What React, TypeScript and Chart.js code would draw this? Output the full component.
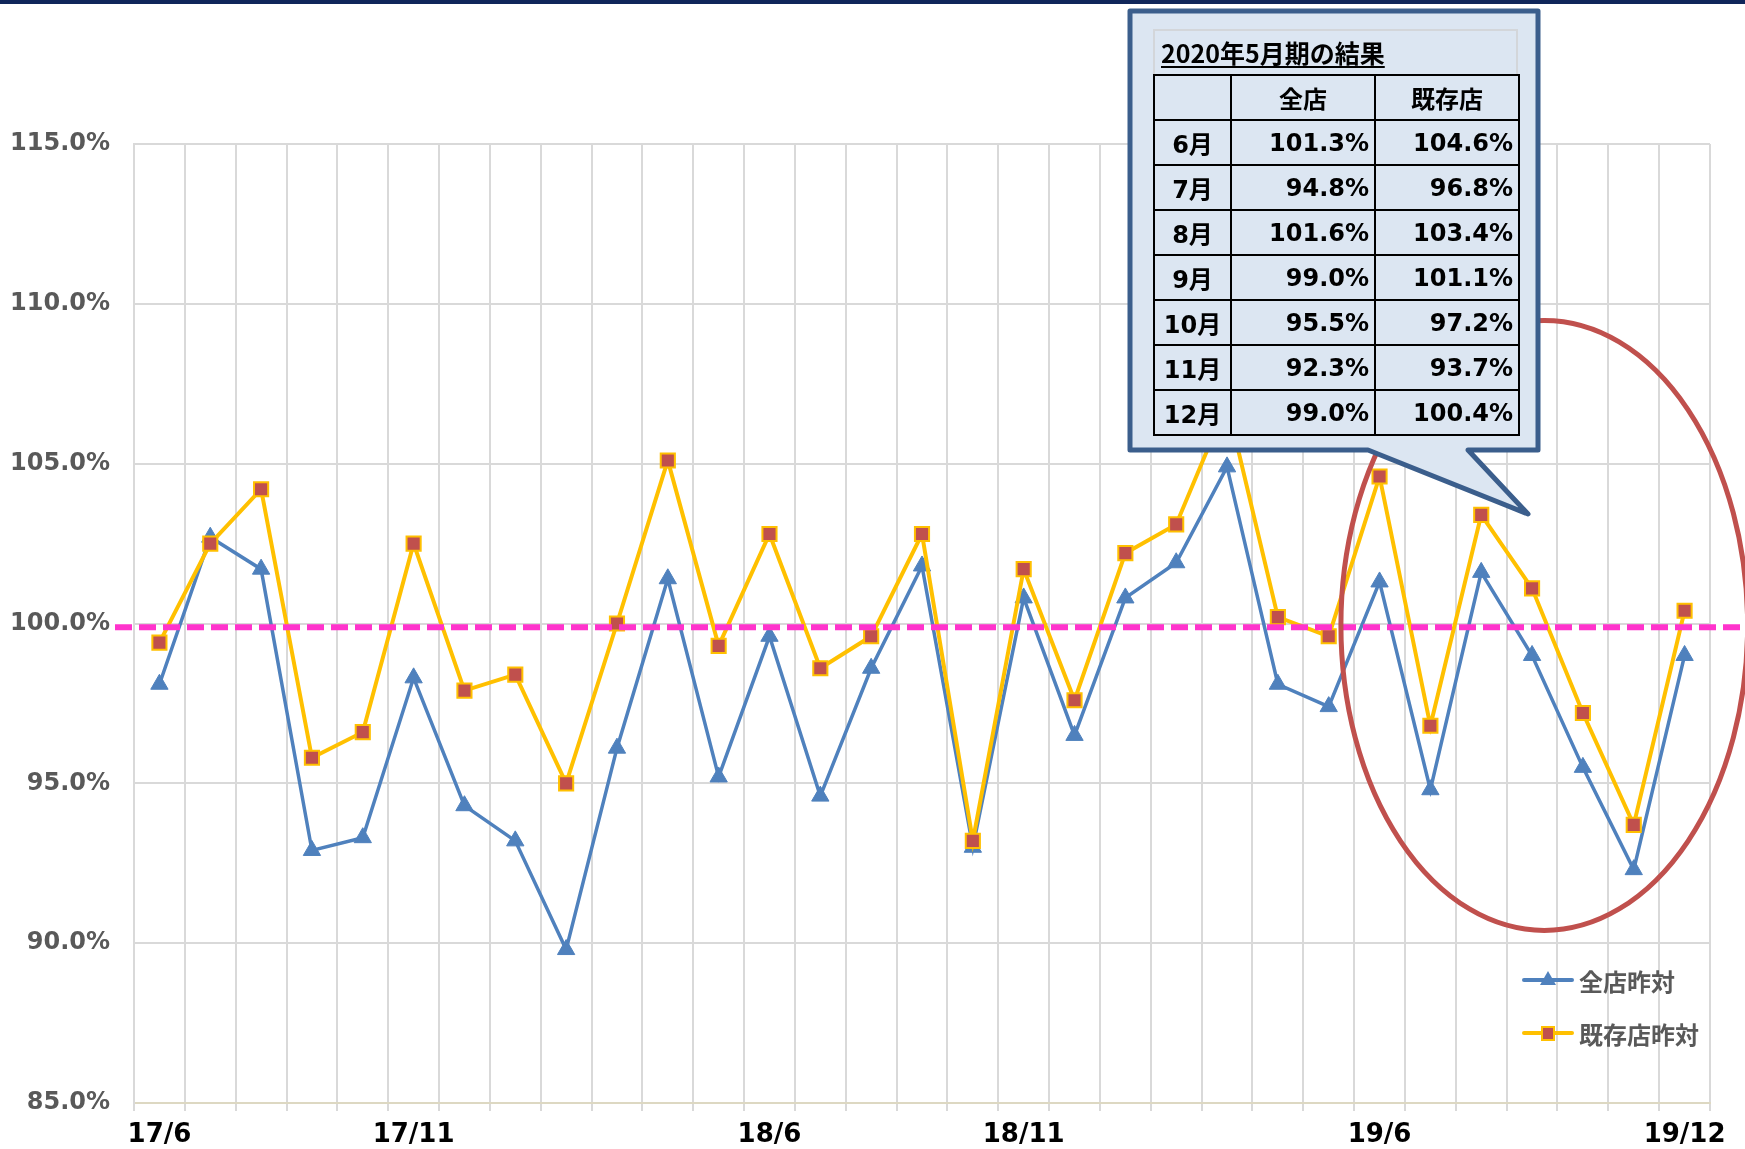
import React, { useEffect, useRef } from "react";
import { Chart, registerables } from "chart.js";

Chart.register(...registerables);

// ---------- data ----------
const categories = [
  "17/6", "17/7", "17/8", "17/9", "17/10", "17/11", "17/12",
  "18/1", "18/2", "18/3", "18/4", "18/5", "18/6", "18/7", "18/8", "18/9", "18/10", "18/11", "18/12",
  "19/1", "19/2", "19/3", "19/4", "19/5", "19/6", "19/7", "19/8", "19/9", "19/10", "19/11", "19/12",
];
const shownTickLabels = ["17/6", "17/11", "18/6", "18/11", "19/6", "19/12"];

const seriesNames = ["全店昨対", "既存店昨対"];
const allStoresYoY = [
  98.1, 102.7, 101.7, 92.9, 93.3, 98.3, 94.3, 93.2, 89.8, 96.1, 101.4, 95.2, 99.6, 94.6, 98.6, 101.8,
  93.0, 100.8, 96.5, 100.8, 101.9, 104.9, 98.1, 97.4, 101.3, 94.8, 101.6, 99.0, 95.5, 92.3, 99.0,
];
const existingStoresYoY = [
  99.4, 102.5, 104.2, 95.8, 96.6, 102.5, 97.9, 98.4, 95.0, 100.0, 105.1, 99.3, 102.8, 98.6, 99.6, 102.8,
  93.2, 101.7, 97.6, 102.2, 103.1, 106.9, 100.2, 99.6, 104.6, 96.8, 103.4, 101.1, 97.2, 93.7, 100.4,
];

const yMin = 85;
const yMax = 115;
const yStep = 5;
const referenceValue = 99.88;

const tableTitle = "2020年5月期の結果";
const tableHeaders = ["", "全店", "既存店"];
const tableMonths = ["6月", "7月", "8月", "9月", "10月", "11月", "12月"];
const tableAll = [101.3, 94.8, 101.6, 99.0, 95.5, 92.3, 99.0];
const tableExisting = [104.6, 96.8, 103.4, 101.1, 97.2, 93.7, 100.4];

// highlight ellipse (in data terms)
const ellipseCenterIndex = 27.24;
const ellipseCenterValue = 99.94;
const ellipseHalfWidthCats = 4.0;
const ellipseHalfHeightPct = 9.54;

// ---------- styles ----------
const BLUE = "#4F81BD";
const YELLOW = "#FFC000";
const RED = "#C0504D";
const GRID = "#D9D9D9";
const LABEL_GRAY = "#595959";
const NUM_FONT = "'DejaVu Sans', 'Noto Sans CJK JP', sans-serif";
const CJK_FONT = "'Noto Sans CJK JP', 'DejaVu Sans', sans-serif";

const overlayPlugin = {
  id: "overlayShapes",
  afterDatasetsDraw(chart: any) {
    const { ctx } = chart;
    const xs = chart.scales.x;
    const ys = chart.scales.y;
    // dashed reference line
    const yRef = ys.getPixelForValue(referenceValue);
    ctx.save();
    ctx.strokeStyle = "#FF33CC";
    ctx.lineWidth = 6;
    ctx.setLineDash([17, 7]);
    ctx.beginPath();
    ctx.moveTo(115, yRef);
    ctx.lineTo(chart.width, yRef);
    ctx.stroke();
    ctx.restore();
    // ellipse
    const cx = xs.getPixelForValue(ellipseCenterIndex);
    const catW = xs.getPixelForValue(1) - xs.getPixelForValue(0);
    const cy = ys.getPixelForValue(ellipseCenterValue);
    const ry = Math.abs(ys.getPixelForValue(ellipseCenterValue + ellipseHalfHeightPct) - cy);
    ctx.save();
    ctx.strokeStyle = RED;
    ctx.lineWidth = 5;
    ctx.beginPath();
    ctx.ellipse(cx, cy, ellipseHalfWidthCats * catW, ry, 0, 0, Math.PI * 2);
    ctx.stroke();
    ctx.restore();
  },
};

export default function App() {
  const ref = useRef<HTMLCanvasElement>(null);

  useEffect(() => {
    document.body.style.margin = "0";
    const chart = new Chart(ref.current as HTMLCanvasElement, {
      type: "line",
      data: {
        labels: categories,
        datasets: [
          {
            label: seriesNames[0],
            data: allStoresYoY,
            borderColor: BLUE,
            backgroundColor: BLUE,
            borderWidth: 3.5,
            pointStyle: "triangle",
            pointRadius: 10,
            pointBackgroundColor: BLUE,
            pointBorderColor: BLUE,
            pointBorderWidth: 1,
            tension: 0,
            order: 1,
          },
          {
            label: seriesNames[1],
            data: existingStoresYoY,
            borderColor: YELLOW,
            backgroundColor: RED,
            borderWidth: 4,
            pointStyle: "rect",
            pointRadius: 10,
            pointBackgroundColor: RED,
            pointBorderColor: YELLOW,
            pointBorderWidth: 2,
            tension: 0,
            order: 0,
          },
        ],
      },
      options: {
        responsive: false,
        animation: false,
        devicePixelRatio: 1,
        layout: { padding: { top: 144, right: 35, bottom: 0, left: 0 } },
        plugins: {
          legend: { display: false },
          tooltip: { enabled: false },
          title: { display: false },
        },
        scales: {
          x: {
            type: "category",
            offset: true,
            grid: {
              offset: true,
              color: GRID,
              lineWidth: 2,
              tickLength: 8,
              tickColor: GRID,
              drawTicks: true,
            },
            border: { color: "#DDD8C2", width: 2 },
            ticks: {
              autoSkip: false,
              maxRotation: 0,
              minRotation: 0,
              padding: 9,
              color: "#000000",
              font: { family: NUM_FONT, size: 26, weight: "bold" },
              callback: (_v: any, i: number) =>
                shownTickLabels.includes(categories[i]) ? categories[i] : "",
            },
            afterFit: (scale: any) => {
              scale.height = 46;
            },
          },
          y: {
            min: yMin,
            max: yMax,
            grid: { color: GRID, lineWidth: 2, drawTicks: false },
            border: { color: GRID, width: 2 },
            ticks: {
              stepSize: yStep,
              padding: 24,
              color: LABEL_GRAY,
              font: { family: NUM_FONT, size: 24, weight: "bold" },
              callback: (v: any) => Number(v).toFixed(1) + "%",
            },
            afterFit: (scale: any) => {
              scale.width = 134;
            },
          },
        },
      },
      plugins: [overlayPlugin],
    } as any);
    return () => chart.destroy();
  }, []);

  const cellBorder = "2px solid #000";
  const rowH = 45;
  const numCell = (align: "center" | "right") => ({
    border: cellBorder,
    textAlign: align,
    fontFamily: NUM_FONT,
    fontSize: 24,
    padding: align === "right" ? "0 5px 0 0" : 0,
    height: rowH - 2,
  });

  return (
    <div style={{ position: "relative", width: 1745, height: 1149, background: "#fff", overflow: "hidden" }}>
      <canvas
        ref={ref}
        width={1745}
        height={1149}
        style={{ position: "absolute", left: 0, top: 0, width: 1745, height: 1149 }}
      />
      <div style={{ position: "absolute", left: 0, top: 0, width: 1745, height: 4, background: "#10265A" }} />

      {/* callout */}
      <svg
        width={1745}
        height={1149}
        style={{ position: "absolute", left: 0, top: 0, pointerEvents: "none" }}
      >
        <polygon
          points="1130,11 1538,11 1538,450 1468,450 1528,514 1368,450 1130,450"
          fill="#DCE6F2"
          stroke="#3B5E8C"
          strokeWidth={5}
          strokeLinejoin="round"
        />
      </svg>
      <div
        style={{
          position: "absolute",
          left: 1153,
          top: 29,
          width: 365,
          height: 46,
          boxSizing: "border-box",
          border: "2px solid #D3D6DA",
          borderBottom: "none",
          fontFamily: CJK_FONT,
          fontWeight: "bold",
          fontSize: 25,
          color: "#000",
          paddingLeft: 6,
          lineHeight: "42px",
        }}
      >
        <span style={{ textDecoration: "underline", textUnderlineOffset: 3 }}>{tableTitle}</span>
      </div>
      <table
        style={{
          position: "absolute",
          left: 1153,
          top: 74,
          width: 365,
          borderCollapse: "collapse",
          tableLayout: "fixed",
          fontWeight: "bold",
          color: "#000",
        }}
      >
        <colgroup>
          <col style={{ width: 77 }} />
          <col style={{ width: 144 }} />
          <col style={{ width: 144 }} />
        </colgroup>
        <tbody>
          <tr style={{ height: rowH }}>
            {tableHeaders.map((h, i) => (
              <td
                key={i}
                style={{
                  border: cellBorder,
                  textAlign: "center",
                  fontFamily: CJK_FONT,
                  fontSize: 24,
                  padding: 0,
                  height: rowH - 2,
                }}
              >
                {h}
              </td>
            ))}
          </tr>
          {tableMonths.map((m, i) => (
            <tr key={m} style={{ height: rowH }}>
              <td style={numCell("center") as any}>{m}</td>
              <td style={numCell("right") as any}>{tableAll[i].toFixed(1)}%</td>
              <td style={numCell("right") as any}>{tableExisting[i].toFixed(1)}%</td>
            </tr>
          ))}
        </tbody>
      </table>

      {/* legend */}
      {seriesNames.map((name, i) => {
        const top = i === 0 ? 980 : 1033;
        return (
          <div
            key={name}
            style={{
              position: "absolute",
              left: 1522,
              top: top - 16,
              height: 32,
              display: "flex",
              alignItems: "center",
            }}
          >
            <svg width={52} height={24} style={{ display: "block" }}>
              <line x1={2} y1={12} x2={50} y2={12} stroke={i === 0 ? BLUE : YELLOW} strokeWidth={4} strokeLinecap="round" />
              {i === 0 ? (
                <polygon points="26,3 34,17 18,17" fill={BLUE} />
              ) : (
                <rect x={20} y={6} width={12} height={13} fill={RED} stroke={YELLOW} strokeWidth={2} />
              )}
            </svg>
            <span
              style={{
                marginLeft: 5,
                fontFamily: CJK_FONT,
                fontWeight: "bold",
                fontSize: 24,
                color: LABEL_GRAY,
                whiteSpace: "nowrap",
              }}
            >
              {name}
            </span>
          </div>
        );
      })}
    </div>
  );
}
